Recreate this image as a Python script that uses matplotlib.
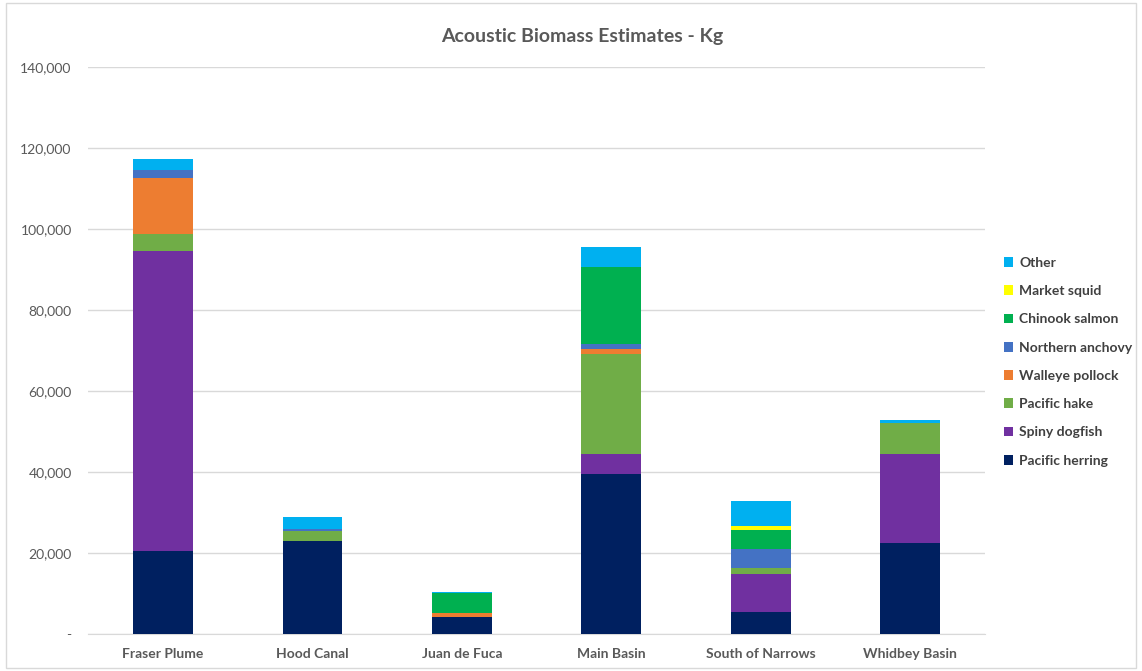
import numpy as np
import matplotlib
matplotlib.use("Agg")
import matplotlib.pyplot as plt
from matplotlib.ticker import FuncFormatter

plt.rcParams["font.family"] = ["Lato", "DejaVu Sans"]

regions = ["Fraser Plume", "Hood Canal", "Juan de Fuca", "Main Basin",
           "South of Narrows", "Whidbey Basin"]

# biomass (kg) per species
pacific_herring  = [20500, 23000, 4300, 39500, 5500, 22600]
spiny_dogfish    = [74100, 0, 0, 4900, 9300, 21800]
pacific_hake     = [4200, 2400, 0, 24800, 1400, 7800]
walleye_pollock  = [13800, 0, 800, 1200, 0, 0]
northern_anchovy = [2000, 500, 0, 1200, 4700, 0]
chinook_salmon   = [0, 0, 5000, 19100, 4800, 0]
market_squid     = [0, 0, 0, 0, 1000, 0]
other            = [2700, 3000, 300, 4900, 6200, 600]

series = [
    ("Pacific herring", pacific_herring, "#002060"),
    ("Spiny dogfish", spiny_dogfish, "#7030A0"),
    ("Pacific hake", pacific_hake, "#70AD47"),
    ("Walleye pollock", walleye_pollock, "#ED7D31"),
    ("Northern anchovy", northern_anchovy, "#4472C4"),
    ("Chinook salmon", chinook_salmon, "#00B050"),
    ("Market squid", market_squid, "#FFFF00"),
    ("Other", other, "#00B0F0"),
]

fig = plt.figure(figsize=(11.42, 6.71), dpi=100)
ax = fig.add_axes([0.0773, 0.055, 0.785, 0.845])

x = np.arange(len(regions))
bottom = np.zeros(len(regions))
handles = []
for name, vals, col in series:
    vals = np.array(vals, dtype=float)
    b = ax.bar(x, vals, width=0.4, bottom=bottom, color=col, label=name, zorder=3)
    handles.append(b)
    bottom += vals

ax.set_ylim(0, 140000)
ax.set_xlim(-0.5, 5.5)
ax.set_yticks(np.arange(0, 140001, 20000))
ax.yaxis.set_major_formatter(FuncFormatter(lambda v, p: "-" if v == 0 else f"{int(v):,}"))
ax.set_xticks(x)
ax.set_xticklabels(regions, fontweight="bold", color="#595959", fontsize=10)
ax.tick_params(axis="y", colors="#595959", labelsize=10, length=0, pad=12)
ax.tick_params(axis="x", length=0, pad=10)
ax.grid(axis="y", color="#D9D9D9", linewidth=1, zorder=0)
for s in ["top", "right", "left"]:
    ax.spines[s].set_visible(False)
ax.spines["bottom"].set_color("#D9D9D9")

fig.text(0.51, 0.945, "Acoustic Biomass Estimates - Kg", ha="center", va="center",
         fontsize=14, fontweight="bold", color="#595959")

leg = fig.legend(handles[::-1], [s[0] for s in series][::-1], loc="center left",
                 bbox_to_anchor=(0.868, 0.461), frameon=False, fontsize=10,
                 handlelength=0.7, handleheight=0.7, handletextpad=0.4,
                 labelspacing=1.17)
for t in leg.get_texts():
    t.set_color("#404040")
    t.set_fontweight("bold")

# chart frame
fig.patches.append(plt.Rectangle((0.005, 0.005), 0.99, 0.99, transform=fig.transFigure,
                                 fill=False, edgecolor="#D9D9D9", linewidth=1))

fig.savefig("out.png", dpi=100)
